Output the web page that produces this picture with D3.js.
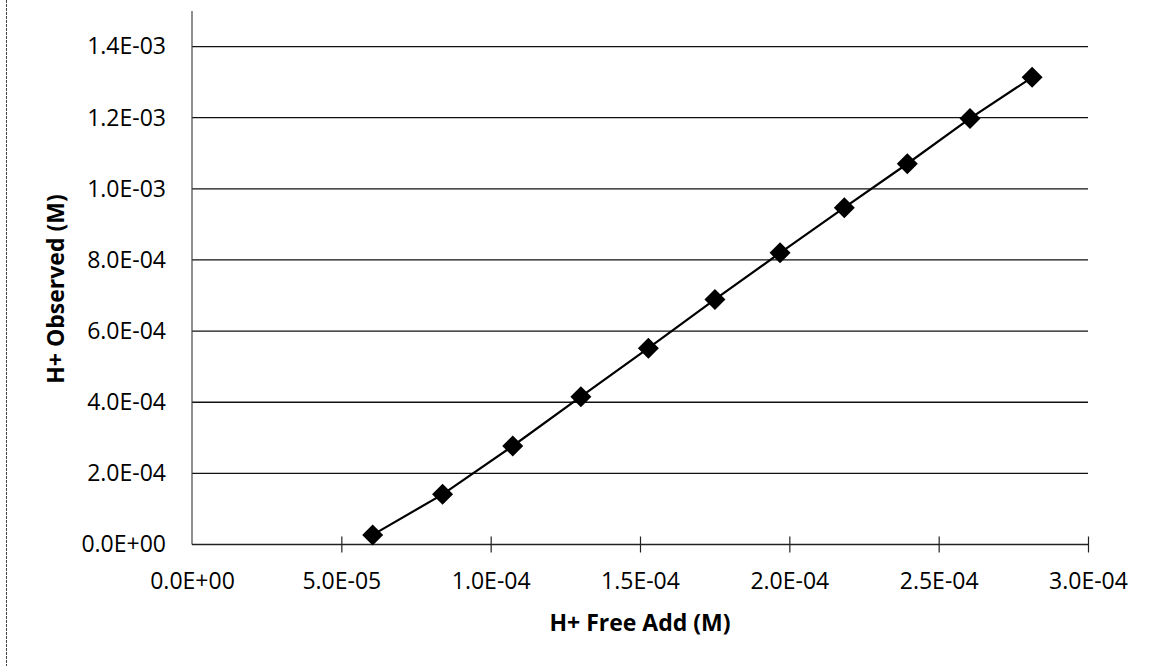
<!DOCTYPE html>
<html>
<head>
<meta charset="utf-8">
<script src="https://cdn.jsdelivr.net/npm/d3@7"></script>
<style>
  html, body { margin: 0; padding: 0; background: #fff; }
  svg { display: block; }
  text { font-family: "Open Sans", "Noto Sans", sans-serif; fill: #000; }
</style>
</head>
<body>
<svg id="chart" width="1152" height="666"></svg>
<script>
// ---- data ----
const hFreeAdd = [6.05e-5, 8.39e-5, 1.074e-4, 1.302e-4, 1.528e-4, 1.751e-4, 1.969e-4, 2.184e-4, 2.395e-4, 2.605e-4, 2.813e-4];
const hObserved = [2.7e-5, 1.41e-4, 2.77e-4, 4.155e-4, 5.52e-4, 6.89e-4, 8.20e-4, 9.47e-4, 1.0706e-3, 1.198e-3, 1.3135e-3];
const xTickValues = [0, 5e-5, 1e-4, 1.5e-4, 2e-4, 2.5e-4, 3e-4];
const xTickLabels = ["0.0E+00", "5.0E-05", "1.0E-04", "1.5E-04", "2.0E-04", "2.5E-04", "3.0E-04"];
const yTickValues = [0, 2e-4, 4e-4, 6e-4, 8e-4, 1e-3, 1.2e-3, 1.4e-3];
const yTickLabels = ["0.0E+00", "2.0E-04", "4.0E-04", "6.0E-04", "8.0E-04", "1.0E-03", "1.2E-03", "1.4E-03"];
const xTitle = "H+ Free Add (M)";
const yTitle = "H+ Observed (M)";

// ---- layout ----
const svg = d3.select("#chart");
const plotLeft = 192, plotRight = 1088, plotTop = 11, plotBottom = 544.5;

const x = d3.scaleLinear().domain([0, 3e-4]).range([plotLeft, plotRight]);
const y = d3.scaleLinear().domain([0, 1.5e-3]).range([plotBottom, plotTop]);

// chart border (left edge visible)
svg.append("line")
  .attr("x1", 6.5).attr("x2", 6.5).attr("y1", 0).attr("y2", 666)
  .attr("stroke", "#444").attr("stroke-width", 1).attr("stroke-dasharray", "3,1");

// gridlines
svg.append("g").selectAll("line")
  .data(yTickValues.slice(1))
  .join("line")
  .attr("x1", plotLeft).attr("x2", plotRight)
  .attr("y1", d => y(d)).attr("y2", d => y(d))
  .attr("stroke", "#111").attr("stroke-width", 1.3);

// y axis
const yAxis = d3.axisLeft(y).tickValues(yTickValues)
  .tickFormat((d, i) => yTickLabels[i]).tickSize(0).tickPadding(26);
const gy = svg.append("g").attr("transform", `translate(${plotLeft},0)`).call(yAxis);
gy.select(".domain").attr("d", `M0,${plotTop}V${plotBottom}`).attr("stroke", "#444").attr("stroke-width", 1.2);
gy.selectAll("text").attr("font-size", 23).attr("font-family", "'Open Sans', sans-serif").attr("fill", "#000");

// x axis
const xAxis = d3.axisBottom(x).tickValues(xTickValues)
  .tickFormat((d, i) => xTickLabels[i]).tickSize(8).tickPadding(20);
const gx = svg.append("g").attr("transform", `translate(0,${plotBottom})`).call(xAxis);
gx.select(".domain").attr("d", `M${plotLeft},0H${plotRight}`).attr("stroke", "#222").attr("stroke-width", 1.3);
gx.selectAll(".tick line").attr("y1", -8).attr("y2", 8).attr("stroke", "#222").attr("stroke-width", 1.2);
gx.selectAll(".tick").filter(d => d === 0).select("line").remove();
gx.selectAll("text").attr("font-size", 23).attr("font-family", "'Open Sans', sans-serif").attr("fill", "#000");

// axis titles
svg.append("text")
  .attr("x", (plotLeft + plotRight) / 2).attr("y", 631)
  .attr("text-anchor", "middle").attr("font-size", 23).attr("font-weight", "bold")
  .text(xTitle);
svg.append("text")
  .attr("transform", `translate(64,289) rotate(-90)`)
  .attr("text-anchor", "middle").attr("font-size", 23).attr("font-weight", "bold")
  .text(yTitle);

// series
const pts = hFreeAdd.map((v, i) => ({ x: v, y: hObserved[i] }));
svg.append("path")
  .datum(pts)
  .attr("fill", "none").attr("stroke", "#000").attr("stroke-width", 2.2)
  .attr("d", d3.line().x(d => x(d.x)).y(d => y(d.y)));

svg.append("g").selectAll("path")
  .data(pts)
  .join("path")
  .attr("transform", d => `translate(${x(d.x)},${y(d.y)})`)
  .attr("d", "M0,-10.5L10.5,0L0,10.5L-10.5,0Z")
  .attr("fill", "#000");
</script>
</body>
</html>
